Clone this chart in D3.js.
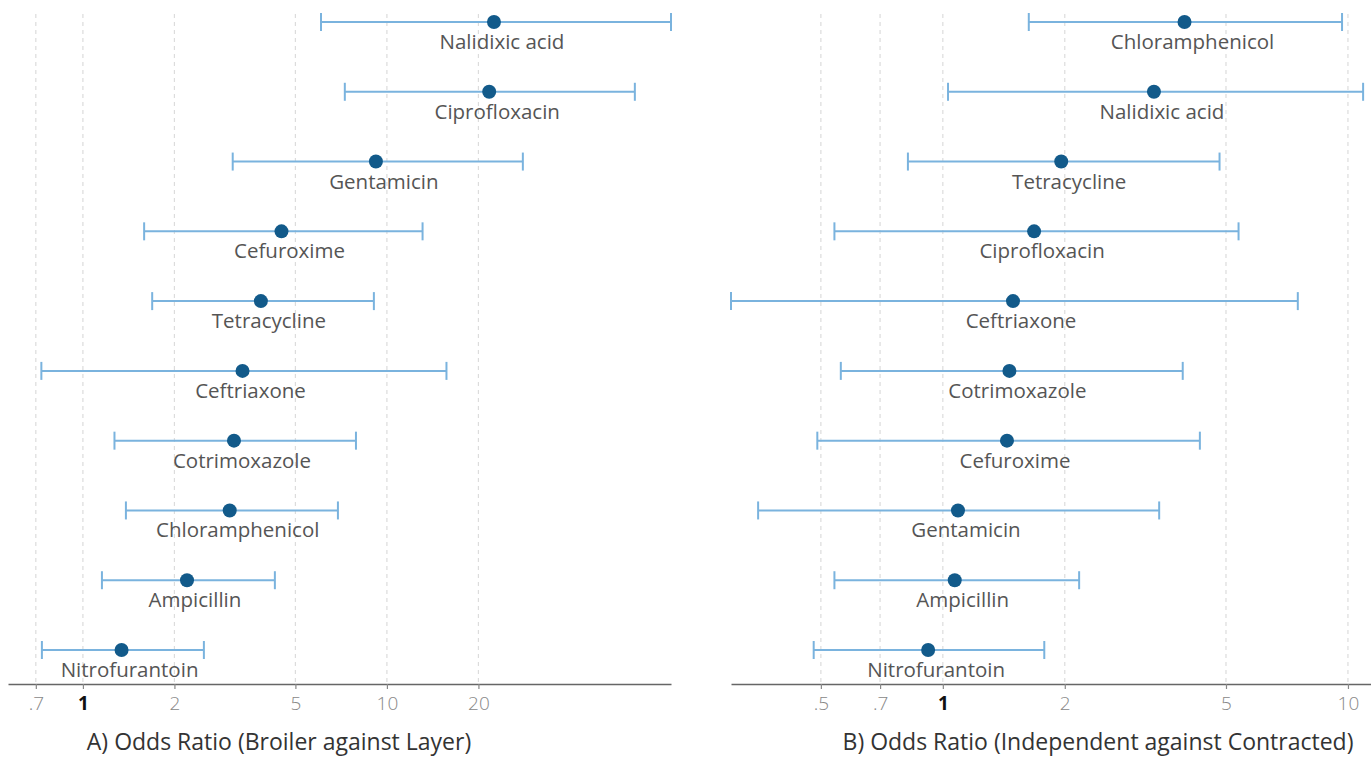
<!DOCTYPE html>
<html>
<head>
<meta charset="utf-8">
<script src="https://cdn.jsdelivr.net/npm/d3@7"></script>
<style>
  body { margin: 0; background: #fff; }
  text { font-family: "Open Sans", sans-serif; }
</style>
</head>
<body>
<div id="chart"></div>
<script>
// A) broiler against layer
const drugsA = ["Nalidixic acid", "Ciprofloxacin", "Gentamicin", "Cefuroxime", "Tetracycline",
  "Ceftriaxone", "Cotrimoxazole", "Chloramphenicol", "Ampicillin", "Nitrofurantoin"];
const oddsA = [22.5, 21.7, 9.2, 4.5, 3.85, 3.35, 3.14, 3.04, 2.2, 1.34];
const lowA = [6.07, 7.27, 3.11, 1.59, 1.69, 0.73, 1.27, 1.385, 1.155, 0.733];
const highA = [86, 65.4, 28, 13.1, 9.06, 15.7, 7.91, 6.9, 4.28, 2.5];
const ticksA = [0.7, 1, 2, 5, 10, 20];

// B) independent against contracted
const drugsB = ["Chloramphenicol", "Nalidixic acid", "Tetracycline", "Ciprofloxacin", "Ceftriaxone",
  "Cotrimoxazole", "Cefuroxime", "Gentamicin", "Ampicillin", "Nitrofurantoin"];
const oddsB = [3.95, 3.32, 1.96, 1.68, 1.49, 1.46, 1.44, 1.09, 1.07, 0.92];
const lowB = [1.63, 1.03, 0.82, 0.54, 0.30, 0.56, 0.49, 0.35, 0.54, 0.48];
const highB = [9.67, 10.9, 4.82, 5.37, 7.52, 3.91, 4.31, 3.42, 2.17, 1.78];
const ticksB = [0.5, 0.7, 1, 2, 5, 10];

const width = 1371, height = 760;
const axisY = 684;

const svg = d3.select("#chart")
  .append("svg")
    .attr("width", width)
    .attr("height", height);

const y = d3.scalePoint()
  .domain(d3.range(10))
  .range([22, 650]);

function fmt(d) {
  return d < 1 ? String(d).replace(/^0/, "") : String(d);
}

function draw_panel(p) {
  const data = p.drugs.map((name, i) => ({name, or: p.odds[i], lo: p.low[i], hi: p.high[i], i}));

  const x = d3.scaleLog()
    .domain(p.domain)
    .range(p.range);

  const g = svg.append("g");

  // dashed grid
  g.append("g")
    .selectAll("line")
    .data(p.ticks)
    .join("line")
      .attr("x1", d => x(d))
      .attr("x2", d => x(d))
      .attr("y1", 14)
      .attr("y2", axisY)
      .attr("stroke", "#dcdcdc")
      .attr("stroke-width", 1.2)
      .attr("stroke-dasharray", "4,4");

  // axis
  const ax = g.append("g")
    .attr("transform", `translate(0,${axisY})`)
    .call(d3.axisBottom(x)
      .tickValues(p.ticks)
      .tickSize(5)
      .tickSizeOuter(0)
      .tickFormat(fmt));
  ax.select(".domain").attr("stroke", "#666").attr("stroke-width", 1.6);
  ax.selectAll(".tick line").attr("stroke", "#888").attr("stroke-width", 1.2);
  ax.selectAll(".tick text")
    .attr("dy", "0.95em")
    .attr("font-size", 19)
    .attr("font-family", "'Open Sans', sans-serif")
    .attr("fill", d => d === 1 ? "#111" : "#888")
    .attr("font-weight", d => d === 1 ? "bold" : 300);

  // confidence intervals
  const ci = g.append("g")
    .attr("stroke", "#7ab3de")
    .attr("stroke-width", 2);
  ci.selectAll(".bar")
    .data(data)
    .join("line")
      .attr("x1", d => x(d.lo))
      .attr("x2", d => x(d.hi))
      .attr("y1", d => y(d.i))
      .attr("y2", d => y(d.i));
  ci.selectAll(".caplo")
    .data(data)
    .join("line")
      .attr("x1", d => x(d.lo))
      .attr("x2", d => x(d.lo))
      .attr("y1", d => y(d.i) - 9)
      .attr("y2", d => y(d.i) + 9);
  ci.selectAll(".caphi")
    .data(data)
    .join("line")
      .attr("x1", d => x(d.hi))
      .attr("x2", d => x(d.hi))
      .attr("y1", d => y(d.i) - 9)
      .attr("y2", d => y(d.i) + 9);

  // point estimates
  g.append("g")
    .selectAll("circle")
    .data(data)
    .join("circle")
      .attr("cx", d => x(d.or))
      .attr("cy", d => y(d.i))
      .attr("r", 7)
      .attr("fill", "#125a8a");

  // labels
  g.append("g")
    .selectAll("text")
    .data(data)
    .join("text")
      .attr("x", d => x(d.or) + 8)
      .attr("y", d => y(d.i) + 27)
      .attr("text-anchor", "middle")
      .attr("font-size", 20.5)
      .attr("fill", "#555")
      .text(d => d.name);

  g.append("text")
    .attr("x", p.titleX)
    .attr("y", 750)
    .attr("text-anchor", "middle")
    .attr("font-size", 23)
    .attr("fill", "#333")
    .text(p.title);
}

draw_panel({
  drugs: drugsA, odds: oddsA, low: lowA, high: highA, ticks: ticksA,
  domain: [0.567, 86], range: [8, 671],
  title: "A) Odds Ratio (Broiler against Layer)", titleX: 279
});

draw_panel({
  drugs: drugsB, odds: oddsB, low: lowB, high: highB, ticks: ticksB,
  domain: [0.30, 11.4], range: [731, 1371],
  title: "B) Odds Ratio (Independent against Contracted)", titleX: 1098
});
</script>
</body>
</html>
